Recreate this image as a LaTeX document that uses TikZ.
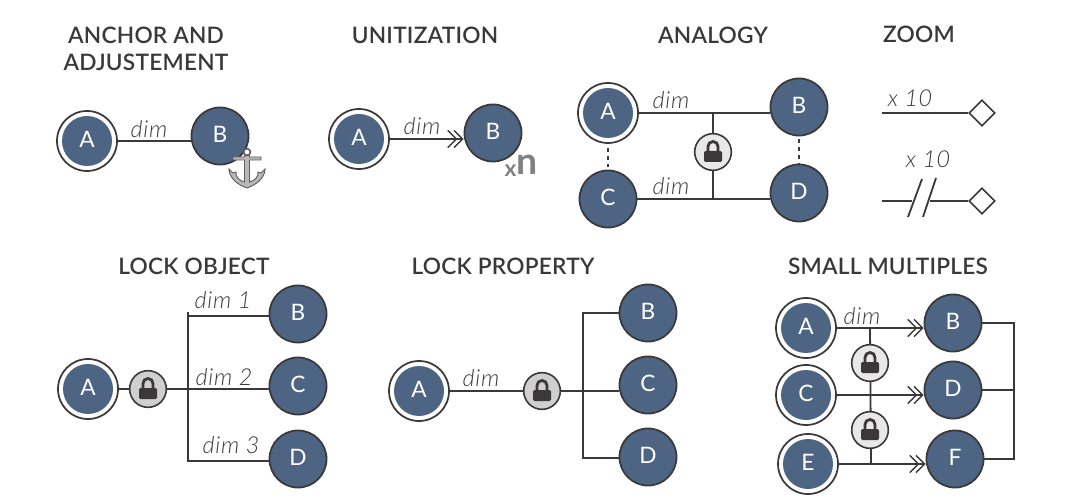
\documentclass[tikz,border=0pt]{standalone}
\usepackage{fontspec}
\setmainfont{Lato}
\newfontfamily\titlefont{Lato Semibold}
\newfontfamily\dimfont[ItalicFont={Lato Light Italic}]{Lato Light}
\usetikzlibrary{arrows.meta, shapes.geometric}
\definecolor{nodeblue}{HTML}{4D6482}
\definecolor{linedark}{HTML}{3A3839}
\definecolor{dimgray}{HTML}{3A3A3A}
\definecolor{lockpale}{HTML}{E8E8E8}
\definecolor{lockgray}{HTML}{CFCFCF}
\definecolor{anchorgray}{HTML}{B8B8B8}
\definecolor{anchordark}{HTML}{5E5E5E}
\newcommand{\lockglyph}{%
    \begin{scope}[shift={(path picture bounding box.center)}]
        \draw[linedark, line width=2.1pt] (-5,0) -- (-5,-5.5) arc[start angle=180, end angle=360, radius=5] -- (5,0);
        \fill[linedark, rounded corners=1pt] (-9,-1) rectangle (9,10);
    \end{scope}}
\tikzset{
    circnode/.style={circle, draw=linedark, line width=1.3pt, fill=nodeblue, inner sep=0pt, minimum size=42.8pt, text=white, text depth=3pt, font=\fontsize{17}{17}\selectfont},
    rootnode/.style={circnode, minimum size=45pt, fill=white, path picture={\fill[nodeblue] (path picture bounding box.center) circle (25);}},
    locknode/.style={circle, draw=linedark, line width=1.2pt, fill=#1, inner sep=0pt, minimum size=27.5pt, path picture={\lockglyph}},
    titlelabel/.style={text=linedark, font=\titlefont\fontsize{17}{17}\selectfont\addfontfeature{LetterSpace=1.0}},
    dimlabel/.style={text=dimgray, font=\dimfont\fontsize{17.5}{17.5}\selectfont\itshape\addfontfeature{LetterSpace=3.0}},
    conn/.style={draw=linedark, line width=1.35pt},
    thinconn/.style={draw=linedark, line width=0.8pt},
    multi/.style={conn, -{Straight Barb[length=6.5pt,width=13pt,line width=1pt,sep=-3pt]Straight Barb[length=6.5pt,width=13pt,line width=1pt]}},
    endmark/.style={diamond, draw=linedark, line width=1.2pt, fill=white, inner sep=0pt, minimum size=19.5pt}
}
\begin{document}
\begin{tikzpicture}[x=0.75pt, y=-0.75pt]
    \useasboundingbox (0,0) rectangle (1067,502);
    \foreach \x/\y/\label in {146/35/ANCHOR AND, 146/62/ADJUSTEMENT, 425/35/UNITIZATION, 713/35/ANALOGY, 919/34/ZOOM, 194/266/LOCK OBJECT, 503/266/LOCK PROPERTY, 888/266/SMALL MULTIPLES} {
        \node[titlelabel] at (\x,\y) {\label};
    }
    \foreach \x/\y/\label in {149/129/dim, 422/126/dim, 671/100/dim, 671/186/dim, 910/98/x 10, 928/159/x 10, 223/300/dim 1, 224/377/dim 2, 231/445/dim 3, 481/378/dim, 862/316/dim} {
        \node[dimlabel] at (\x,\y) {\label};
    }

    \node[rootnode] (anchA) at (87,141) {A};
    \node[circnode] (anchB) at (220,136) {B};
    \draw[conn] (anchA.east) -- (anchA.east -| anchB.west);
    \begin{scope}[shift={(247,168)}]
        \filldraw[fill=anchorgray, draw=anchordark, line width=0.7pt] (-18,1) .. controls (-18,10) and (-9,17) .. (0,20) .. controls (9,17) and (18,10) .. (18,1) -- (14,5) -- (11,4) .. controls (12,9) and (7,13) .. (2.5,14) -- (2.5,-8) -- (14,-8) -- (14,-11) -- (2.5,-11) -- (2.5,-13) -- (-2.5,-13) -- (-2.5,-11) -- (-14,-11) -- (-14,-8) -- (-2.5,-8) -- (-2.5,14) .. controls (-7,13) and (-12,9) .. (-11,4) -- (-14,5) -- cycle;
        \draw[anchordark, fill=white, line width=1.2pt] (0,-16) circle (3.4);
    \end{scope}

    \node[rootnode] (unitA) at (359,139) {A};
    \node[circnode] (unitB) at (493,133) {B};
    \draw[multi] (unitA.east) -- (unitA.east -| unitB.west);
    \node[text=gray, font=\fontsize{17}{17}\selectfont\bfseries] (unitx) at (510.5,171) {x};
    \node[text=gray, font=\fontsize{28}{28}\selectfont\bfseries] (unitn) at (527,165) {n};

    \node[rootnode] (anaA) at (608,113) {A};
    \node[circnode] (anaB) at (799,107) {B};
    \node[circnode] (anaC) at (608,199) {C};
    \node[circnode] (anaD) at (799,193) {D};
    \node[locknode=lockpale] (anaL) at (713,152) {};
    \draw[conn] (anaA.east) -- (anaA.east -| anaB.west);
    \draw[conn] (anaC.east) -- (anaC.east -| anaD.west);
    \draw[thinconn] (anaL.north) -- (anaL.north |- anaA.east);
    \draw[thinconn] (anaL.south) -- (anaL.south |- anaC.east);
    \draw[conn, dash pattern=on 3pt off 3pt] ([yshift=-3pt]anaA.south) -- ([yshift=2pt]anaC.north);
    \draw[conn, dash pattern=on 3pt off 3pt] ([yshift=-2pt]anaB.south) -- (anaD.north);

    \coordinate (zoomS) at (882,113);
    \coordinate (zoomT) at (882,201);
    \coordinate (gapL) at (912,201);
    \coordinate (gapR) at (930,201);
    \coordinate (slashA) at (908,217);
    \coordinate (slashB) at (922,179);
    \coordinate (slashC) at (923,217);
    \coordinate (slashD) at (936,178);
    \node[endmark] (zoomD) at (982,113) {};
    \node[endmark] (zoomE) at (982,201) {};
    \draw[conn] (zoomS) -- (zoomD.west);
    \draw[conn] (zoomT) -- (gapL);
    \draw[conn] (gapR) -- (zoomE.west);
    \draw[conn] (slashA) -- (slashB);
    \draw[conn] (slashC) -- (slashD);

    \node[rootnode] (objA) at (88,389) {A};
    \node[locknode=lockgray] (objL) at (148,389) {};
    \node[circnode] (objB) at (298,314) {B};
    \node[circnode] (objC) at (298,386) {C};
    \node[circnode] (objD) at (298,459) {D};
    \coordinate (objT) at (188,312);
    \coordinate (objU) at (188,316);
    \coordinate (objV) at (188,461);
    \coordinate (objW) at (188,462);
    \draw[conn] (objT) -- (objW);
    \draw[conn] (objA.east) -- (objL.west);
    \draw[conn] (objL.east) -- (objL.east -| objC.west);
    \draw[conn] (objU) -- (objU -| objB.west);
    \draw[conn] (objV) -- (objV -| objD.west);

    \node[rootnode] (propA) at (419,391) {A};
    \node[locknode=lockgray] (propL) at (542,391) {};
    \node[circnode] (propB) at (648,313) {B};
    \node[circnode] (propC) at (648,385) {C};
    \node[circnode] (propD) at (648,457) {D};
    \coordinate (propU) at (583,313);
    \coordinate (propV) at (583,458);
    \draw[conn] (propA.east) -- (propL.west);
    \draw[conn] (propL.east) -- (propL.east -| propC.west);
    \draw[conn] (propU -| propB.west) -- (propU) -- (propV) -- (propV -| propD.west);

    \node[rootnode] (multA) at (806,328) {A};
    \node[rootnode] (multC) at (806,395) {C};
    \node[rootnode] (multE) at (808,464) {E};
    \node[circnode] (multB) at (953,323) {B};
    \node[circnode] (multD) at (953,390) {D};
    \node[circnode] (multF) at (955,459) {F};
    \draw[multi] (multA.east) -- (multA.east -| multB.west);
    \draw[multi] (multC.east) -- (multC.east -| multD.west);
    \draw[multi] (multE.east) -- (multE.east -| multF.west);
    \coordinate (multT) at (870,328);
    \coordinate (multW) at (871,464);
    \draw[conn] (multT) -- (multW);
    \node[locknode=lockpale] (multL) at (870,363) {};
    \node[locknode=lockpale] (multM) at (870,430) {};
    \coordinate (busT) at (1014,323);
    \coordinate (busB) at (1014,459);
    \draw[conn] (multB.east) -- (busT) -- (busB) -- (multF.east);
    \draw[conn] (multD.east) -- (multD.east -| busT);
\end{tikzpicture}
\end{document}
